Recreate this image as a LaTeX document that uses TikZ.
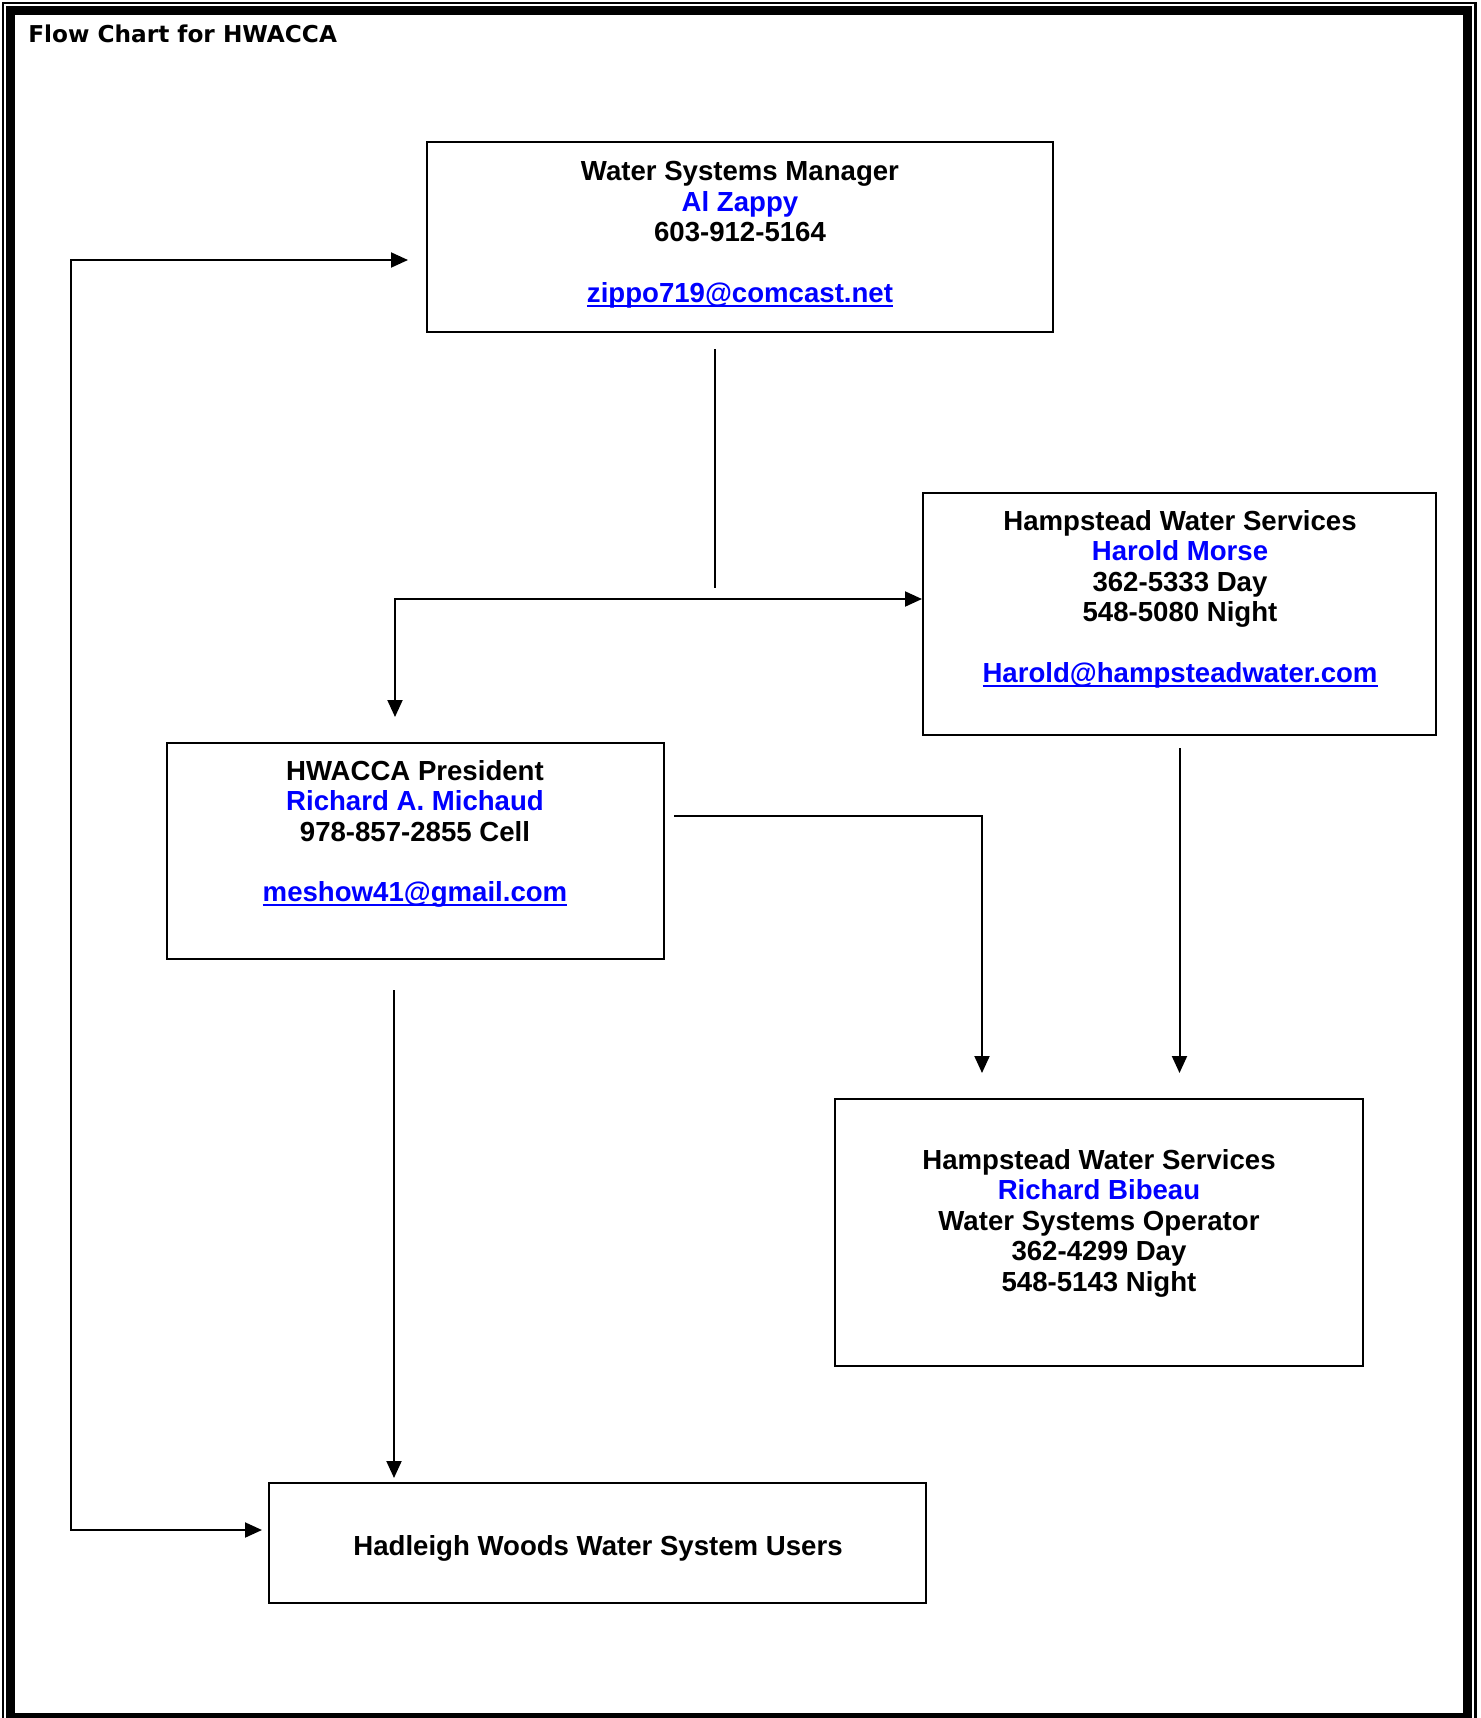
\documentclass[tikz,border=0pt]{standalone}
\usepackage{fontspec}
\setmainfont{Liberation Sans}
\newfontfamily\titlefont{DejaVu Sans}
\usetikzlibrary{arrows.meta,calc}
\newcommand\mailto[1]{\setbox0\hbox{#1}\rlap{\rule[-2.2pt]{\wd0}{1pt}}\box0}

\begin{document}
\begin{tikzpicture}[x=0.5pt,y=-0.5pt,
  box/.style={draw,line width=1pt,rectangle,inner sep=0pt},
  card/.style={align=center,inner sep=0pt,anchor=north,
    font=\fontsize{13.8}{15.25}\selectfont\bfseries},
  arr/.style={line width=1pt,-{Triangle[length=8.5pt,width=7.5pt]}},
  arrs/.style={line width=1pt,{Triangle[length=8.5pt,width=7.5pt]}-{Triangle[length=8.5pt,width=7.5pt]}},
  plain/.style={line width=1pt}]
\useasboundingbox (0,0) rectangle (1480,1718);

% page frame
\draw[line width=1.2pt] (3,3) rectangle (1475.5,1722);
\draw[line width=4.5pt] (10.5,11) rectangle (1467.5,1717);

\node[anchor=north west,inner sep=0pt,font=\titlefont\bfseries\fontsize{11.6}{13}\selectfont] (title) at (28,24) {Flow Chart for HWACCA};

% boxes
\node[box,minimum width=313pt,minimum height=95pt] (mgr) at (740,237) {};
\node[card] (mgrtxt) at (740,161) {Water Systems Manager\\
  \color{blue}Al Zappy\\
  603-912-5164\\[15pt]
  \color{blue}\mailto{zippo719@comcast.net}};

\node[box,minimum width=256.5pt,minimum height=121pt] (hws) at (1179.5,614) {};
\node[card] (hwstxt) at (1180,510) {Hampstead Water Services\\
  \color{blue}Harold Morse\\
  362-5333 Day\\
  548-5080 Night\\[15pt]
  \color{blue}\mailto{Harold@hampsteadwater.com}};

\node[box,minimum width=248.5pt,minimum height=108pt] (pres) at (415.5,851) {};
\node[card] (prestxt) at (415,760) {HWACCA President\\
  \color{blue}Richard A. Michaud\\
  978-857-2855 Cell\\[15pt]
  \color{blue}\mailto{meshow41@gmail.com}};

\node[box,minimum width=264pt,minimum height=133.5pt] (oper) at (1099,1232.5) {};
\node[card] (opertxt) at (1099,1149) {Hampstead Water Services\\
  \color{blue}Richard Bibeau\\
  Water Systems Operator\\
  362-4299 Day\\
  548-5143 Night};

\node[box,minimum width=328.5pt,minimum height=60pt] (users) at (597.5,1543) {};
\node[card] (userstxt) at (598,1535) {Hadleigh Woods Water System Users};

% connectors
\coordinate (split) at (715,599);
\coordinate (loop) at (71,1530);
\draw[plain] ($(mgr.south -| split)+(0,16)$) -- ($(split)+(0,-11)$);
\draw[arr] (split) -- (split -| hws.west);
\draw[arr] (split) -| ($(pres.north)+(-20.5,-25)$);
\draw[arr] ($(hws.south)+(0,12)$) -- ($(hws.south |- oper.north)+(0,-25)$);
\draw[arr] ($(pres.east)+(9,-35)$) -| ($(oper.north)+(-117,-25)$);
\draw[arr] ($(pres.south)+(-21.5,30)$) -- ($(pres.south |- users.north)+(-21.5,-4)$);
\draw[arrs] ($(mgr.west)+(-18,23)$) -| (loop) -- ($(users.west)+(-6,-13)$);
\end{tikzpicture}
\end{document}
